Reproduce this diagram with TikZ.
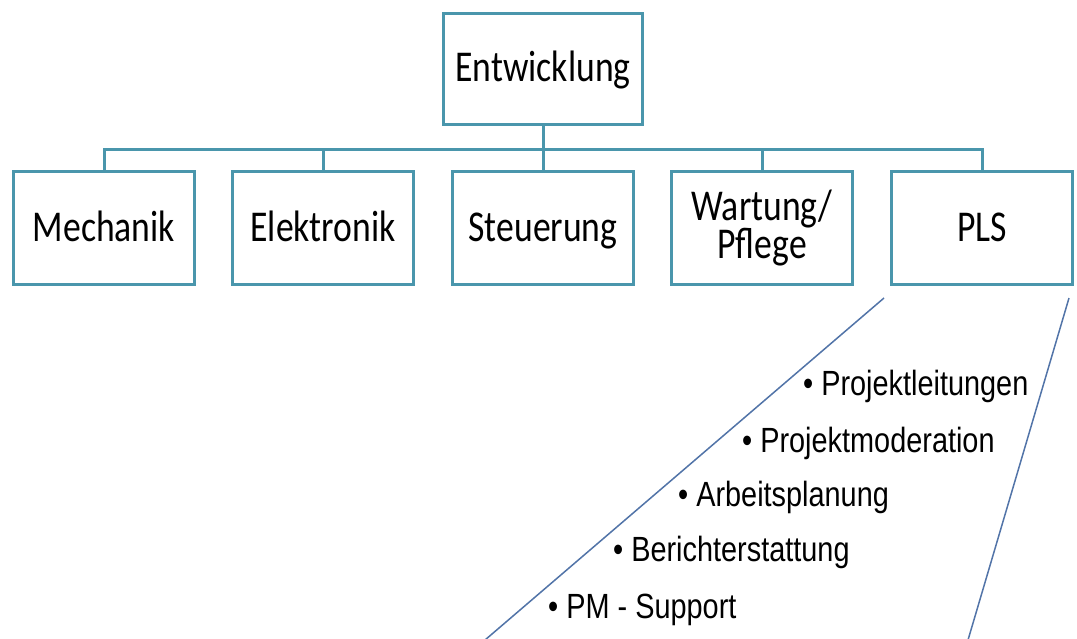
\documentclass[tikz,border=0pt]{standalone}
\usepackage{fontspec}
\newfontfamily\boxfont[FakeStretch=0.81]{Carlito}
\newfontfamily\listfont[FakeStretch=0.825]{Liberation Sans}
\definecolor{boxteal}{RGB}{74,150,172}
\definecolor{calloutblue}{RGB}{82,116,168}
\tikzset{
  orgbox/.style={draw=boxteal, line width=3pt, fill=white, minimum width=181pt,
    minimum height=113pt, align=center, inner sep=0pt,
    font=\boxfont\fontsize{44}{38}\selectfont},
  oneline/.style={text height=32pt, text depth=6pt},
  orgline/.style={draw=boxteal, line width=3pt},
  listitem/.style={anchor=base west, inner sep=0pt,
    font=\listfont\fontsize{35}{40}\selectfont},
}

\begin{document}
\begin{tikzpicture}[x=1pt, y=-1pt]
  \useasboundingbox (0,0) rectangle (1077,638);

  % Boxes
  \node[orgbox, oneline, minimum width=199pt, minimum height=111pt] (ent) at (543,68.5) {Entwicklung};
  \node[orgbox, oneline] (mech) at (104,228) {Mechanik};
  \node[orgbox, oneline] (elek) at (323,228) {Elektronik};
  \node[orgbox, oneline] (steu) at (543,228) {Steuerung};
  \node[orgbox] (wart) at (762,228) {Wartung/\\Pflege};
  \node[orgbox, oneline] (pls) at (982,228) {PLS};

  % Tree lines
  \draw[orgline] (ent.south) -- ++(0,24) -| (mech.north);
  \draw[orgline] (ent.south) -- ++(0,24) -| (elek.north);
  \draw[orgline] (ent.south) -- (steu.north);
  \draw[orgline] (ent.south) -- ++(0,24) -| (wart.north);
  \draw[orgline] (ent.south) -- ++(0,24) -| (pls.north);

  % Callout below PLS
  \coordinate (cl top) at (884,298);
  \coordinate (cl bot) at (485,640);
  \coordinate (cr top) at (1069,298);
  \coordinate (cr bot) at (968,640);
  \draw[calloutblue, line width=1.5pt] (cl top) -- (cl bot);
  \draw[calloutblue, line width=1.5pt] (cr top) -- (cr bot);

  \node[listitem] (pl) at (803,395) {• Projektleitungen};
  \node[listitem] (pmod) at (742,452) {• Projektmoderation};
  \node[listitem] (ap) at (678,506) {• Arbeitsplanung};
  \node[listitem] (ber) at (613,561) {• Berichterstattung};
  \node[listitem] (pms) at (548,618) {• PM - Support};
\end{tikzpicture}
\end{document}
